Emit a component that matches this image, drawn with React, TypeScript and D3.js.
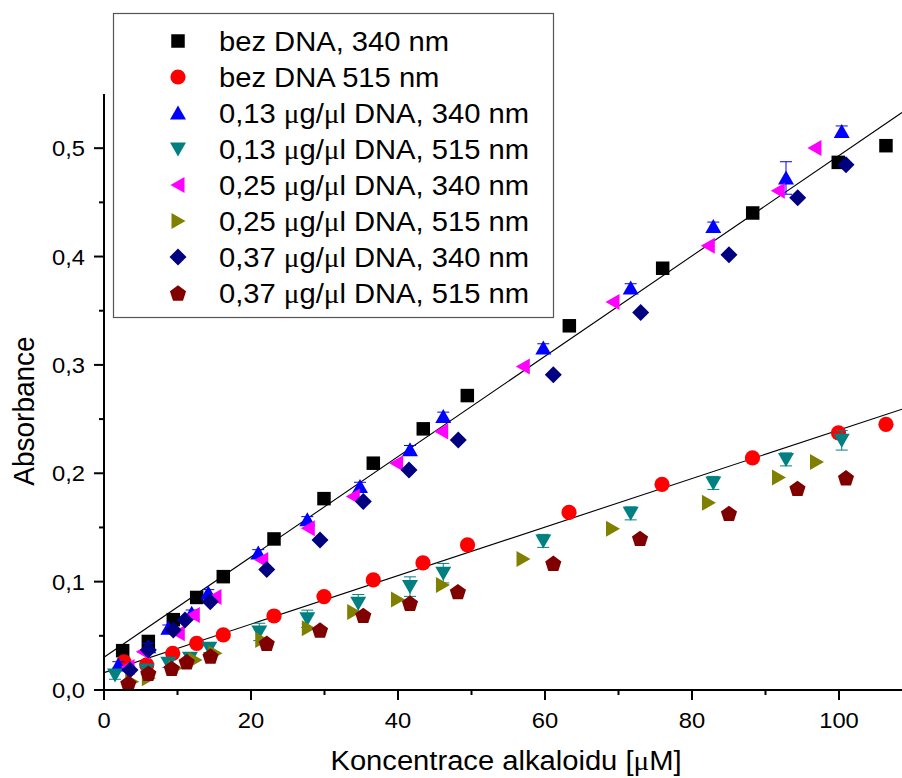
import React from "react";
import * as d3 from "d3";

// ---- data ----
const xBezA = [2.54, 6.03, 9.43, 12.61, 16.23, 23.13, 29.93, 36.64, 43.44, 49.43, 63.31, 76.01, 88.26, 99.9, 106.39];
const yBez340 = [0.0363, 0.0448, 0.0649, 0.0854, 0.1046, 0.1394, 0.1766, 0.2093, 0.241, 0.2717, 0.3361, 0.3892, 0.4402, 0.4869, 0.5023];
const xBezB = [2.72, 5.81, 9.35, 12.61, 16.23, 23.13, 29.93, 36.64, 43.4, 49.46, 63.27, 75.92, 88.23, 99.93, 106.39];
const yBez515 = [0.0259, 0.0231, 0.0339, 0.0431, 0.0508, 0.0683, 0.0862, 0.1016, 0.1173, 0.1339, 0.1639, 0.1898, 0.2142, 0.2373, 0.2452];
const x013 = [1.95, 6.03, 8.75, 11.93, 14.19, 20.99, 27.66, 34.83, 41.63, 46.16, 59.77, 71.66, 82.9, 92.79, 100.37];
const y013_340 = [0.0231, 0.04, 0.057, 0.0708, 0.0896, 0.1265, 0.157, 0.1877, 0.2216, 0.2524, 0.3155, 0.3709, 0.4278, 0.4725, 0.5155];
const e013_340 = [0.003, 0.003, 0.003, 0.003, 0.003, 0.003, 0.003, 0.004, 0.004, 0.004, 0.004, 0.004, 0.004, 0.015, 0.005];
const x013b = [1.5, 5.81, 8.75, 11.7, 14.33, 21.13, 27.66, 34.59, 41.63, 46.16, 59.77, 71.66, 82.9, 92.79, 100.37];
const y013_515 = [0.0139, 0.0185, 0.0247, 0.0293, 0.0385, 0.0536, 0.0657, 0.0801, 0.0954, 0.1078, 0.1376, 0.163, 0.1911, 0.2128, 0.2304];
const e013_515 = [0.004, 0.004, 0.004, 0.004, 0.004, 0.008, 0.008, 0.008, 0.009, 0.009, 0.006, 0.006, 0.006, 0.006, 0.009];
const x025 = [3.27, 5.35, 10.11, 12.15, 15.1, 21.46, 27.8, 33.92, 39.82, 45.94, 57.05, 69.25, 82.22, 91.74, 96.73];
const y025_340 = [0.0212, 0.0354, 0.0524, 0.0693, 0.0859, 0.12, 0.1493, 0.1785, 0.2093, 0.2385, 0.2985, 0.3581, 0.41, 0.4608, 0.5002];
const x025b = [3.77, 6.03, 9.66, 12.38, 15.1, 21.46, 27.8, 33.97, 39.93, 46.05, 57.01, 69.18, 82.24, 91.77, 96.94];
const y025_515 = [0.0077, 0.0108, 0.02, 0.0277, 0.0339, 0.0462, 0.057, 0.072, 0.0836, 0.097, 0.121, 0.1487, 0.1727, 0.1962, 0.2105];
const x037 = [3.54, 6.03, 9.43, 11.02, 14.46, 22.14, 29.39, 35.28, 41.5, 48.2, 61.13, 73.02, 85.03, 94.38, 100.95];
const y037_340 = [0.0185, 0.0369, 0.0554, 0.0646, 0.0815, 0.1113, 0.1385, 0.1739, 0.2031, 0.2308, 0.2909, 0.3484, 0.4017, 0.4543, 0.4848];
const x037b = [3.31, 6.03, 9.21, 11.25, 14.49, 22.14, 29.39, 35.28, 41.63, 48.15, 61.13, 72.93, 85.03, 94.35, 100.95];
const y037_515 = [0.0062, 0.0154, 0.02, 0.0261, 0.0314, 0.0431, 0.0554, 0.0688, 0.0801, 0.0908, 0.117, 0.1399, 0.163, 0.1861, 0.1958];

const fit340 = [0.0302, 0.00463]; // intercept, slope
const fit515 = [0.016, 0.002239];

const xTicks = [0, 20, 40, 60, 80, 100];
const xMinorTicks = [10, 30, 50, 70, 90];
const yTicks = [0, 0.1, 0.2, 0.3, 0.4, 0.5];
const yMinorTicks = [0.05, 0.15, 0.25, 0.35, 0.45];

type Shape = "square" | "circle" | "up" | "down" | "left" | "right" | "diamond" | "pentagon";
const seriesNames = [
  ["bez DNA, 340 nm"],
  ["bez DNA 515 nm"],
  ["0,13 ", "µ", "g/", "µ", "l DNA, 340 nm"],
  ["0,13 ", "µ", "g/", "µ", "l DNA, 515 nm"],
  ["0,25 ", "µ", "g/", "µ", "l DNA, 340 nm"],
  ["0,25 ", "µ", "g/", "µ", "l DNA, 515 nm"],
  ["0,37 ", "µ", "g/", "µ", "l DNA, 340 nm"],
  ["0,37 ", "µ", "g/", "µ", "l DNA, 515 nm"],
];
const seriesColors = ["#000000", "#ff0000", "#0000ff", "#008080", "#ff00ff", "#808000", "#000080", "#800000"];
const seriesShapes: Shape[] = ["square", "circle", "up", "down", "left", "right", "diamond", "pentagon"];
const seriesX = [xBezA, xBezB, x013, x013b, x025, x025b, x037, x037b];
const seriesY = [yBez340, yBez515, y013_340, y013_515, y025_340, y025_515, y037_340, y037_515];
const seriesErr: (number[] | null)[] = [null, null, e013_340, e013_515, null, null, null, null];

// ---- layout ----
const W = 902, H = 778;
const L = 104, R = 902, T = 94, B = 690;
const xMax = ((R - L) / 735) * 100;
const xS = d3.scaleLinear().domain([0, xMax]).range([L, R]);
const yS = d3.scaleLinear().domain([0, 0.55]).range([B, T]);
const STRETCH = 1.08;
const FONT = "'Liberation Sans', Arial, sans-serif";
const MU_FONT = "'Liberation Serif', 'Times New Roman', serif";

function shapePath(s: Shape): string {
  const p = d3.path();
  const poly = (pts: [number, number][]) => {
    pts.forEach(([a, b], i) => (i ? p.lineTo(a, b) : p.moveTo(a, b)));
    p.closePath();
  };
  switch (s) {
    case "square": p.rect(-6.75, -6.75, 13.5, 13.5); break;
    case "circle": p.arc(0, 0, 7.6, 0, Math.PI * 2); break;
    case "up": poly([[0, -7.5], [8, 6.5], [-8, 6.5]]); break;
    case "down": poly([[0, 7.5], [8, -6.5], [-8, -6.5]]); break;
    case "left": poly([[-7.5, 0], [6.5, -8], [6.5, 8]]); break;
    case "right": poly([[7.5, 0], [-6.5, -8], [-6.5, 8]]); break;
    case "diamond": poly([[0, -8.5], [8.5, 0], [0, 8.5], [-8.5, 0]]); break;
    case "pentagon": {
      const pts: [number, number][] = d3.range(5).map((i) => {
        const a = -Math.PI / 2 + (i * 2 * Math.PI) / 5;
        return [8.5 * Math.cos(a), 8.5 * Math.sin(a) + 0.8];
      });
      poly(pts);
      break;
    }
  }
  return p.toString();
}

function Txt({ x, y, size, anchor = "start", children, rotate = false }: any) {
  const tr = rotate
    ? `translate(${x},${y}) rotate(-90) scale(1,${STRETCH})`
    : `translate(${x},${y}) scale(${STRETCH},1)`;
  return (
    <text transform={tr} fontSize={size} fontFamily={FONT} textAnchor={anchor} fill="#000">
      {children}
    </text>
  );
}

function Label({ parts }: { parts: string[] }) {
  return (
    <>
      {parts.map((t, i) =>
        t === "µ" ? (
          <tspan key={i} fontFamily={MU_FONT}>μ</tspan>
        ) : (
          <tspan key={i}>{t}</tspan>
        )
      )}
    </>
  );
}

export default function App() {
  const fitPath = (f: number[]) =>
    d3.line<number>()
      .x((v) => xS(v))
      .y((v) => yS(f[0] + f[1] * v))([0, xMax]) as string;

  const legX = 178, legTextX = 219, legY0 = 41, legDy = 36;

  return (
    <svg width={W} height={H} style={{ position: "absolute", left: 0, top: 0, background: "#fff" }}>
      <rect width={W} height={H} fill="#fff" />
      <defs>
        <clipPath id="plot">
          <rect x={L} y={T - 20} width={R - L} height={B - T + 20} />
        </clipPath>
      </defs>

      {/* fit lines */}
      <g clipPath="url(#plot)">
        <path d={fitPath(fit340)} stroke="#000" strokeWidth={1.1} fill="none" />
        <path d={fitPath(fit515)} stroke="#000" strokeWidth={1.1} fill="none" />
      </g>

      {/* series */}
      {seriesX.map((xs, si) => (
        <g key={si}>
          {seriesErr[si] &&
            xs.map((xv, i) => {
              const e = (seriesErr[si] as number[])[i];
              const cx = xS(xv);
              const y1 = yS(seriesY[si][i] + e), y2 = yS(seriesY[si][i] - e);
              return (
                <g key={"e" + i} stroke={seriesColors[si]} strokeWidth={1}>
                  <line x1={cx} x2={cx} y1={y1} y2={y2} />
                  <line x1={cx - 6} x2={cx + 6} y1={y1} y2={y1} />
                  <line x1={cx - 6} x2={cx + 6} y1={y2} y2={y2} />
                </g>
              );
            })}
          {xs.map((xv, i) => (
            <path
              key={i}
              d={shapePath(seriesShapes[si])}
              transform={`translate(${xS(xv)},${yS(seriesY[si][i])})`}
              fill={seriesColors[si]}
            />
          ))}
        </g>
      ))}

      {/* axes */}
      <g stroke="#000" strokeWidth={2}>
        <line x1={L} x2={L} y1={T} y2={B + 1} />
        <line x1={L - 1} x2={R} y1={B} y2={B} />
        {xTicks.map((t) => (
          <line key={"xt" + t} x1={xS(t)} x2={xS(t)} y1={B} y2={B + 10} />
        ))}
        {xMinorTicks.map((t) => (
          <line key={"xm" + t} x1={xS(t)} x2={xS(t)} y1={B} y2={B + 5} />
        ))}
        {yTicks.map((t) => (
          <line key={"yt" + t} x1={L - 10} x2={L} y1={yS(t)} y2={yS(t)} />
        ))}
        {yMinorTicks.map((t) => (
          <line key={"ym" + t} x1={L - 5} x2={L} y1={yS(t)} y2={yS(t)} />
        ))}
      </g>
      {xTicks.map((t) => (
        <Txt key={"xl" + t} x={xS(t)} y={728} size={22} anchor="middle">
          {String(t)}
        </Txt>
      ))}
      {yTicks.map((t) => (
        <Txt key={"yl" + t} x={85} y={yS(t) + 8} size={22} anchor="end">
          {t.toFixed(1).replace(".", ",")}
        </Txt>
      ))}

      {/* axis titles */}
      <Txt x={506} y={770} size={27} anchor="middle">
        <tspan>Koncentrace alkaloidu [</tspan>
        <tspan fontFamily={MU_FONT}>μ</tspan>
        <tspan>M]</tspan>
      </Txt>
      <Txt x={34} y={411} size={28} anchor="middle" rotate>
        Absorbance
      </Txt>

      {/* legend */}
      <rect x={113.5} y={13.5} width={440} height={304} fill="#fff" stroke="#555" strokeWidth={1.2} />
      {seriesNames.map((parts, i) => {
        const cy = legY0 + i * legDy;
        return (
          <g key={"lg" + i}>
            <path d={shapePath(seriesShapes[i])} transform={`translate(${legX},${cy})`} fill={seriesColors[i]} />
            <Txt x={legTextX} y={cy + 10} size={27}>
              <Label parts={parts} />
            </Txt>
          </g>
        );
      })}
    </svg>
  );
}
